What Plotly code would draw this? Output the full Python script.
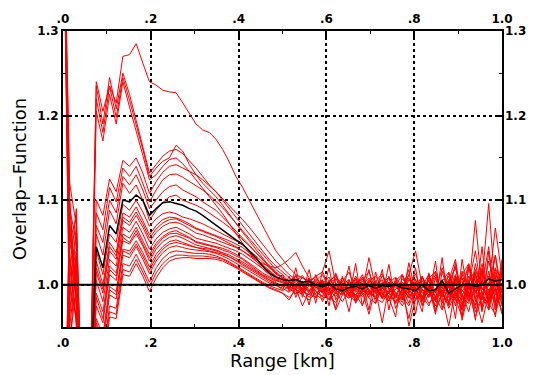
import numpy as np
import plotly.graph_objects as go

# ---------------- data ----------------
# range gates (km), 67 bins from 0 to 1 km
x_km = np.linspace(0.0, 1.0, 67)

# red curves: individual overlap-function estimates (head: 0-0.485 km, tail: 0.5-1.0 km)
r01 = [1.50, 0.95, 1.02, 0.80, 0.82, 1.240, 1.205, 1.235, 1.215, 1.270, 1.272, 1.285, 1.262, 1.240, 1.236, 1.230, 1.228, 1.227, 1.215, 1.203, 1.190, 1.183, 1.180, 1.172, 1.160, 1.145, 1.128, 1.115, 1.100, 1.085, 1.070, 1.055, 1.040] + \
      [1.030, 1.020, 1.012, 1.008, 1.004, 1.010, 0.998, 1.003, 1.012, 0.995, 1.000, 1.006, 0.992, 1.004, 1.010, 0.997, 0.990, 1.005, 1.012, 0.996, 1.002, 0.985, 1.008, 1.015, 0.990, 1.003, 1.020, 0.985, 1.010, 0.995, 1.025, 0.980, 1.012, 1.000]
r02 = [0.70, 1.10, 0.98, 0.80, 0.85, 1.235, 1.190, 1.245, 1.208, 1.250, 1.225, 1.195, 1.165, 1.132, 1.142, 1.152, 1.158, 1.160, 1.155, 1.147, 1.138, 1.128, 1.118, 1.110, 1.102, 1.094, 1.086, 1.077, 1.068, 1.058, 1.048, 1.038, 1.028] + \
      [1.020, 1.012, 1.006, 1.001, 1.008, 0.996, 1.003, 0.990, 1.007, 1.002, 0.994, 1.010, 0.999, 0.988, 1.004, 1.013, 0.995, 1.000, 0.986, 1.006, 0.998, 1.010, 0.992, 0.975, 1.004, 1.015, 0.990, 1.008, 0.982, 1.018, 0.995, 1.000, 1.067, 1.010]
r03 = [1.50, 1.05, 1.08, 0.80, 0.83, 1.220, 1.180, 1.235, 1.198, 1.245, 1.218, 1.190, 1.160, 1.128, 1.138, 1.146, 1.150, 1.165, 1.158, 1.142, 1.130, 1.120, 1.112, 1.104, 1.094, 1.083, 1.072, 1.062, 1.052, 1.042, 1.032, 1.022, 1.014] + \
      [1.008, 1.004, 1.010, 0.998, 0.992, 1.005, 1.012, 0.996, 0.990, 1.008, 1.000, 0.993, 1.006, 1.015, 0.994, 0.985, 1.002, 1.009, 0.996, 0.978, 1.005, 0.999, 1.012, 0.990, 1.020, 0.996, 0.983, 1.012, 1.025, 0.990, 1.005, 0.975, 1.018, 1.008]
r04 = [0.70, 0.92, 1.04, 0.80, 0.82, 1.205, 1.170, 1.225, 1.190, 1.240, 1.210, 1.183, 1.153, 1.124, 1.130, 1.140, 1.148, 1.150, 1.143, 1.134, 1.124, 1.114, 1.104, 1.094, 1.084, 1.072, 1.060, 1.049, 1.038, 1.028, 1.019, 1.012, 1.006] + \
      [1.003, 0.996, 1.004, 1.011, 0.999, 0.993, 1.001, 1.009, 0.994, 0.988, 1.004, 0.998, 1.012, 0.992, 0.999, 1.006, 0.984, 1.000, 1.011, 0.993, 0.987, 1.008, 0.998, 1.016, 0.985, 1.005, 1.030, 0.978, 1.000, 1.040, 0.988, 1.010, 0.970, 1.002]
r05 = [1.50, 1.00, 0.96, 0.80, 0.84, 1.100, 1.082, 1.125, 1.110, 1.147, 1.140, 1.150, 1.132, 1.108, 1.122, 1.133, 1.140, 1.142, 1.138, 1.134, 1.130, 1.124, 1.117, 1.110, 1.100, 1.090, 1.080, 1.070, 1.060, 1.050, 1.040, 1.030, 1.022] + \
      [1.015, 1.008, 1.002, 0.995, 1.006, 1.000, 0.991, 1.004, 1.010, 0.996, 0.989, 1.002, 1.007, 0.994, 0.983, 1.001, 1.009, 0.997, 0.990, 1.012, 0.995, 0.982, 1.006, 1.000, 0.988, 1.014, 0.993, 0.970, 1.020, 1.005, 0.985, 1.028, 0.995, 0.965]
r06 = [0.70, 1.06, 1.00, 0.80, 0.81, 1.085, 1.065, 1.115, 1.098, 1.138, 1.128, 1.140, 1.120, 1.098, 1.112, 1.124, 1.130, 1.131, 1.127, 1.122, 1.118, 1.112, 1.106, 1.099, 1.091, 1.082, 1.073, 1.064, 1.055, 1.046, 1.036, 1.027, 1.018] + \
      [1.012, 1.003, 0.997, 1.009, 1.001, 0.992, 0.986, 1.006, 0.998, 1.004, 1.015, 0.993, 0.999, 1.008, 0.990, 0.996, 1.003, 0.985, 1.007, 0.998, 1.013, 0.990, 0.994, 1.009, 0.978, 1.000, 1.022, 0.992, 1.006, 0.972, 1.015, 0.998, 1.035, 0.990]
r07 = [1.50, 1.08, 0.97, 0.80, 0.83, 1.070, 1.050, 1.100, 1.085, 1.128, 1.118, 1.130, 1.112, 1.090, 1.100, 1.110, 1.116, 1.118, 1.112, 1.108, 1.104, 1.098, 1.093, 1.088, 1.080, 1.072, 1.064, 1.056, 1.047, 1.038, 1.030, 1.021, 1.013] + \
      [1.008, 1.000, 1.006, 0.994, 1.002, 1.010, 1.015, 1.040, 1.001, 0.992, 0.996, 1.003, 0.988, 0.997, 1.005, 0.993, 0.981, 1.002, 0.996, 1.012, 1.040, 0.999, 0.990, 0.992, 1.004, 0.985, 1.010, 0.996, 1.024, 0.984, 1.000, 1.045, 0.978, 1.012]
r08 = [0.70, 0.98, 1.06, 0.80, 0.84, 1.060, 1.035, 1.088, 1.072, 1.120, 1.108, 1.118, 1.100, 1.076, 1.088, 1.097, 1.104, 1.106, 1.100, 1.097, 1.094, 1.090, 1.085, 1.080, 1.074, 1.068, 1.061, 1.054, 1.046, 1.038, 1.030, 1.022, 1.015] + \
      [1.009, 1.004, 0.998, 0.991, 1.003, 0.996, 1.006, 0.989, 1.000, 1.008, 0.994, 0.985, 1.004, 0.999, 0.990, 1.011, 0.996, 0.984, 1.003, 0.992, 1.007, 0.981, 0.996, 1.012, 0.988, 1.002, 0.975, 1.016, 0.994, 1.076, 0.995, 0.990, 1.020, 0.982]
r09 = [1.50, 1.03, 0.99, 0.80, 0.82, 1.040, 1.012, 1.060, 1.050, 1.095, 1.088, 1.100, 1.086, 1.069, 1.078, 1.084, 1.086, 1.084, 1.080, 1.078, 1.075, 1.072, 1.068, 1.064, 1.060, 1.056, 1.052, 1.047, 1.041, 1.034, 1.027, 1.020, 1.013] + \
      [1.008, 1.003, 1.000, 0.995, 1.004, 0.998, 0.990, 1.002, 1.007, 0.995, 0.988, 1.001, 0.994, 1.006, 0.998, 0.984, 0.992, 1.004, 0.997, 0.989, 1.002, 0.995, 0.985, 1.007, 0.996, 1.010, 0.987, 0.999, 1.022, 0.990, 1.003, 1.096, 0.992, 1.001]
r10 = [0.70, 1.09, 1.05, 0.80, 0.83, 1.028, 1.000, 1.050, 1.038, 1.085, 1.080, 1.092, 1.076, 1.059, 1.070, 1.077, 1.080, 1.079, 1.076, 1.072, 1.067, 1.064, 1.061, 1.058, 1.055, 1.052, 1.048, 1.044, 1.038, 1.031, 1.024, 1.017, 1.010] + \
      [1.006, 1.001, 0.996, 1.003, 0.992, 0.999, 1.005, 0.993, 0.986, 1.000, 1.006, 0.991, 0.997, 0.985, 1.003, 0.996, 1.008, 0.990, 0.982, 0.999, 0.993, 1.009, 0.996, 0.980, 1.003, 0.992, 1.012, 0.985, 0.978, 1.010, 0.996, 0.984, 1.015, 0.990]
r11 = [1.50, 0.97, 1.03, 0.80, 0.81, 1.015, 0.990, 1.040, 1.030, 1.076, 1.070, 1.082, 1.068, 1.051, 1.062, 1.069, 1.073, 1.074, 1.071, 1.066, 1.061, 1.059, 1.056, 1.053, 1.050, 1.047, 1.044, 1.040, 1.035, 1.030, 1.025, 1.022, 1.020] + \
      [1.024, 1.030, 1.038, 1.022, 1.008, 0.999, 1.004, 0.994, 1.001, 0.989, 0.995, 1.007, 0.999, 0.992, 0.986, 1.003, 0.995, 0.988, 1.000, 0.984, 0.997, 1.005, 0.991, 0.987, 0.998, 0.979, 1.006, 0.993, 0.986, 1.013, 0.975, 1.002, 0.988, 1.020]
r12 = [0.70, 1.04, 0.95, 0.80, 0.84, 1.005, 0.980, 1.030, 1.022, 1.068, 1.062, 1.075, 1.060, 1.042, 1.054, 1.062, 1.066, 1.068, 1.064, 1.060, 1.055, 1.053, 1.051, 1.049, 1.046, 1.043, 1.040, 1.036, 1.031, 1.025, 1.019, 1.013, 1.008] + \
      [1.004, 0.998, 0.994, 1.000, 0.990, 0.985, 0.996, 1.003, 0.991, 0.980, 0.994, 0.988, 0.999, 0.984, 0.978, 0.996, 0.990, 1.002, 0.986, 0.975, 0.994, 0.982, 0.998, 0.970, 0.992, 1.004, 0.983, 0.962, 0.998, 0.985, 0.955, 0.990, 1.008, 0.975]
r13 = [1.50, 1.12, 1.07, 0.80, 0.82, 0.990, 0.968, 1.022, 1.014, 1.060, 1.055, 1.068, 1.052, 1.036, 1.049, 1.057, 1.062, 1.064, 1.060, 1.056, 1.051, 1.049, 1.047, 1.045, 1.043, 1.040, 1.036, 1.031, 1.026, 1.020, 1.014, 1.009, 1.005] + \
      [1.002, 0.997, 1.006, 0.993, 0.988, 1.001, 0.995, 0.983, 0.998, 1.004, 0.990, 0.982, 0.996, 0.990, 0.993, 0.955, 0.999, 0.990, 0.979, 0.994, 1.003, 0.986, 0.975, 0.996, 0.988, 0.980, 1.010, 0.990, 0.968, 1.004, 0.982, 1.016, 0.972, 0.995]
r14 = [0.70, 1.01, 1.09, 0.80, 0.83, 0.975, 0.955, 1.012, 1.005, 1.052, 1.048, 1.060, 1.046, 1.028, 1.042, 1.051, 1.056, 1.058, 1.055, 1.051, 1.047, 1.045, 1.043, 1.041, 1.038, 1.035, 1.031, 1.027, 1.022, 1.016, 1.011, 1.006, 1.002] + \
      [0.999, 0.995, 0.990, 0.997, 1.004, 0.992, 0.986, 0.999, 0.993, 1.002, 0.987, 0.996, 1.009, 0.991, 0.984, 0.997, 0.990, 1.003, 0.994, 0.986, 0.981, 0.996, 1.005, 0.985, 0.993, 0.999, 0.983, 1.012, 0.990, 0.976, 1.006, 0.993, 0.979, 1.030]
r15 = [1.50, 0.93, 1.00, 0.80, 0.81, 0.960, 0.940, 0.998, 0.992, 1.042, 1.040, 1.052, 1.038, 1.021, 1.036, 1.045, 1.051, 1.053, 1.050, 1.047, 1.044, 1.042, 1.040, 1.038, 1.036, 1.033, 1.029, 1.025, 1.020, 1.015, 1.010, 1.005, 1.001] + \
      [0.998, 1.003, 0.994, 0.989, 0.999, 1.006, 0.993, 0.988, 0.997, 0.991, 1.001, 0.985, 0.993, 1.032, 0.996, 0.988, 0.981, 0.995, 1.001, 0.951, 0.984, 0.998, 0.992, 0.992, 0.995, 1.006, 0.987, 0.977, 1.001, 0.992, 1.018, 0.980, 0.996, 1.010]
r16 = [0.70, 1.07, 0.99, 0.80, 0.84, 0.950, 0.928, 0.988, 0.983, 1.035, 1.032, 1.045, 1.030, 1.013, 1.028, 1.038, 1.044, 1.046, 1.044, 1.042, 1.041, 1.040, 1.039, 1.037, 1.034, 1.030, 1.026, 1.021, 1.016, 1.011, 1.006, 1.002, 0.999] + \
      [0.996, 0.991, 0.999, 1.004, 0.994, 0.988, 0.983, 0.995, 1.000, 0.990, 0.984, 0.997, 0.986, 0.993, 1.002, 0.985, 0.991, 0.979, 0.995, 1.008, 0.988, 0.980, 0.999, 0.991, 0.985, 0.951, 0.996, 1.004, 0.980, 1.025, 0.988, 0.970, 1.006, 0.985]
r17 = [1.50, 1.02, 0.96, 0.80, 0.82, 0.935, 0.915, 0.975, 0.972, 1.025, 1.022, 1.036, 1.020, 1.003, 1.020, 1.031, 1.038, 1.040, 1.039, 1.038, 1.037, 1.037, 1.036, 1.034, 1.031, 1.027, 1.022, 1.017, 1.012, 1.007, 1.003, 0.999, 0.996] + \
      [0.993, 0.998, 0.989, 0.994, 0.985, 0.997, 0.991, 0.982, 0.990, 0.996, 0.987, 0.980, 0.993, 0.988, 0.999, 0.983, 0.990, 0.978, 0.993, 0.986, 0.997, 0.975, 0.989, 0.983, 0.994, 0.972, 0.990, 0.982, 1.000, 0.968, 0.986, 0.978, 0.965, 0.996]
r18 = [0.70, 0.96, 1.04, 0.80, 0.81, 0.920, 0.900, 0.962, 0.960, 1.012, 1.010, 1.025, 1.010, 0.992, 1.008, 1.020, 1.028, 1.031, 1.032, 1.032, 1.031, 1.031, 1.031, 1.030, 1.028, 1.024, 1.020, 1.015, 1.010, 1.005, 1.000, 0.996, 0.993] + \
      [0.990, 0.985, 0.993, 0.988, 0.982, 0.990, 0.995, 0.986, 0.979, 0.992, 0.985, 0.988, 0.976, 0.991, 0.984, 0.979, 0.993, 0.987, 0.975, 0.989, 0.983, 0.994, 0.978, 0.986, 0.970, 0.990, 0.981, 0.975, 0.992, 0.962, 0.985, 0.978, 0.996, 0.968]
r19 = [1.50, 1.06, 1.02, 0.80, 0.83, 1.020, 0.995, 1.045, 1.034, 1.080, 1.074, 1.086, 1.072, 1.055, 1.066, 1.073, 1.077, 1.078, 1.074, 1.070, 1.066, 1.063, 1.060, 1.057, 1.053, 1.049, 1.045, 1.040, 1.034, 1.028, 1.021, 1.015, 1.010] + \
      [1.006, 0.995, 1.012, 0.990, 1.018, 0.984, 1.005, 0.975, 1.014, 0.992, 1.022, 0.980, 1.002, 0.970, 1.015, 0.988, 1.024, 0.978, 0.996, 1.018, 0.965, 1.010, 0.985, 1.028, 0.972, 1.003, 0.960, 1.030, 0.985, 1.012, 0.968, 1.040, 0.975, 1.015]
r20 = [0.70, 0.99, 1.07, 0.80, 0.82, 0.985, 0.960, 1.018, 1.010, 1.056, 1.050, 1.064, 1.048, 1.032, 1.046, 1.055, 1.060, 1.061, 1.058, 1.055, 1.050, 1.048, 1.046, 1.044, 1.041, 1.038, 1.034, 1.030, 1.024, 1.018, 1.012, 1.008, 1.004] + \
      [1.012, 0.992, 1.020, 0.985, 1.008, 0.978, 1.016, 0.996, 0.972, 1.010, 0.986, 1.025, 0.975, 1.004, 0.990, 1.018, 0.970, 1.008, 0.982, 1.026, 0.990, 0.968, 1.014, 0.980, 1.032, 0.975, 1.008, 0.962, 1.022, 0.980, 1.045, 0.970, 1.010, 0.985]
r21 = [1.50, 1.10, 0.98, 0.80, 0.84, 0.955, 0.935, 0.994, 0.988, 1.040, 1.036, 1.048, 1.034, 1.017, 1.032, 1.042, 1.048, 1.050, 1.048, 1.046, 1.044, 1.043, 1.042, 1.040, 1.037, 1.033, 1.028, 1.023, 1.018, 1.013, 1.008, 1.004, 1.000] + \
      [0.994, 1.010, 0.985, 1.003, 0.976, 1.012, 0.990, 1.020, 0.982, 0.998, 0.968, 1.008, 0.992, 1.018, 0.978, 1.002, 0.985, 0.962, 1.012, 0.990, 1.020, 0.976, 0.998, 0.965, 1.016, 0.988, 1.026, 0.970, 1.004, 0.958, 1.020, 0.984, 1.035, 0.975]
r22 = [0.70, 1.05, 1.01, 0.80, 0.82, 0.925, 0.905, 0.968, 0.965, 1.018, 1.015, 1.030, 1.015, 0.998, 1.014, 1.025, 1.032, 1.035, 1.035, 1.034, 1.034, 1.034, 1.033, 1.032, 1.030, 1.026, 1.021, 1.016, 1.011, 1.006, 1.001, 0.997, 0.994] + \
      [0.990, 0.982, 0.996, 0.975, 0.992, 1.004, 0.980, 0.995, 0.970, 0.988, 1.006, 0.978, 0.992, 0.965, 0.998, 0.984, 1.010, 0.972, 0.990, 0.960, 0.996, 0.982, 1.012, 0.968, 0.990, 0.976, 1.004, 0.958, 0.992, 1.016, 0.970, 0.995, 0.962, 1.025]

# black curve: mean overlap function
mean_curve = [None, None, None, None, 0.85, 1.045, 1.020, 1.070, 1.060, 1.100, 1.098, 1.106, 1.100, 1.082, 1.090, 1.097, 1.098, 1.096, 1.094, 1.090, 1.087, 1.082, 1.076, 1.070, 1.065, 1.059, 1.053, 1.048, 1.040, 1.032, 1.022, 1.014, 1.009] + \
             [1.006, 1.005, 1.006, 1.003, 1.004, 1.000, 0.997, 1.002, 0.995, 0.993, 0.997, 0.998, 0.995, 0.999, 0.996, 0.999, 0.998, 1.000, 0.996, 0.995, 0.993, 1.000, 0.993, 0.994, 1.005, 0.990, 0.995, 1.000, 1.001, 0.998, 1.000, 1.007, 1.004, 1.006]

red_curves = [r01, r02, r03, r04, r05, r06, r07, r08, r09, r10, r11,
              r12, r13, r14, r15, r16, r17, r18, r19, r20, r21, r22]

x_tick_vals = [0.0, 0.2, 0.4, 0.6, 0.8, 1.0]
x_tick_text = [".0", ".2", ".4", ".6", ".8", "1.0"]
y_tick_vals = [1.0, 1.1, 1.2, 1.3]
y_tick_text = ["1.0", "1.1", "1.2", "1.3"]
x_range = [0.0, 1.0]
y_range = [0.95, 1.3]
reference_level = 1.0

for c in red_curves + [mean_curve]:
    assert len(c) == len(x_km), len(c)

# ---------------- figure ----------------
fig = go.Figure()
for c in red_curves:
    fig.add_trace(go.Scatter(x=x_km, y=c, mode="lines",
                             line=dict(color="#ff0000", width=1),
                             hoverinfo="skip", showlegend=False))
# mean curve on the mirrored (top/right) axes so those axes get drawn
fig.add_trace(go.Scatter(x=x_km, y=mean_curve, mode="lines",
                         xaxis="x2", yaxis="y2",
                         line=dict(color="black", width=1.5),
                         hoverinfo="skip", showlegend=False))

fig.add_hline(y=reference_level, line=dict(color="black", width=2))

tick_font = dict(family="DejaVu Sans", size=12, color="black", weight="bold")
title_font = dict(family="DejaVu Sans", size=18, color="black")

common_x = dict(range=x_range, tickvals=x_tick_vals, ticktext=x_tick_text,
                tickfont=tick_font, zeroline=False)
common_y = dict(range=y_range, tickvals=y_tick_vals, ticktext=y_tick_text,
                tickfont=tick_font, zeroline=False)

fig.update_layout(
    width=538, height=375,
    margin=dict(l=63, r=32, t=27, b=44),
    paper_bgcolor="white", plot_bgcolor="white",
    showlegend=False,
    xaxis=dict(**common_x, ticks="inside", ticklen=6, tickwidth=1.5, tickcolor="black",
               showline=True, linewidth=2, linecolor="black", mirror="ticks",
               showgrid=True, gridcolor="black", griddash="dot", gridwidth=1.5,
               ticklabelstandoff=4,
               minor=dict(ticks="inside", ticklen=3, tickwidth=1, tickcolor="black",
                          dtick=0.1, tick0=0, showgrid=False),
               title=dict(text="Range [km]", font=title_font, standoff=0)),
    xaxis2=dict(**common_x, overlaying="x", side="top", anchor="y2",
                ticks="", showline=False, showgrid=False, ticklabelstandoff=5),
    yaxis=dict(**common_y, ticks="inside", ticklen=6, tickwidth=1.5, tickcolor="black",
               showline=True, linewidth=2, linecolor="black", mirror="ticks",
               showgrid=True, gridcolor="black", griddash="dot", gridwidth=2,
               minor=dict(ticks="inside", ticklen=3, tickwidth=1, tickcolor="black",
                          dtick=0.05, tick0=0, showgrid=False),
               title=dict(text="Overlap\u2212Function", font=title_font, standoff=6)),
    yaxis2=dict(**common_y, overlaying="y", side="right", anchor="x2",
                ticks="", showline=False, showgrid=False, ticklabelstandoff=2),
)

fig.write_html("out.html")
